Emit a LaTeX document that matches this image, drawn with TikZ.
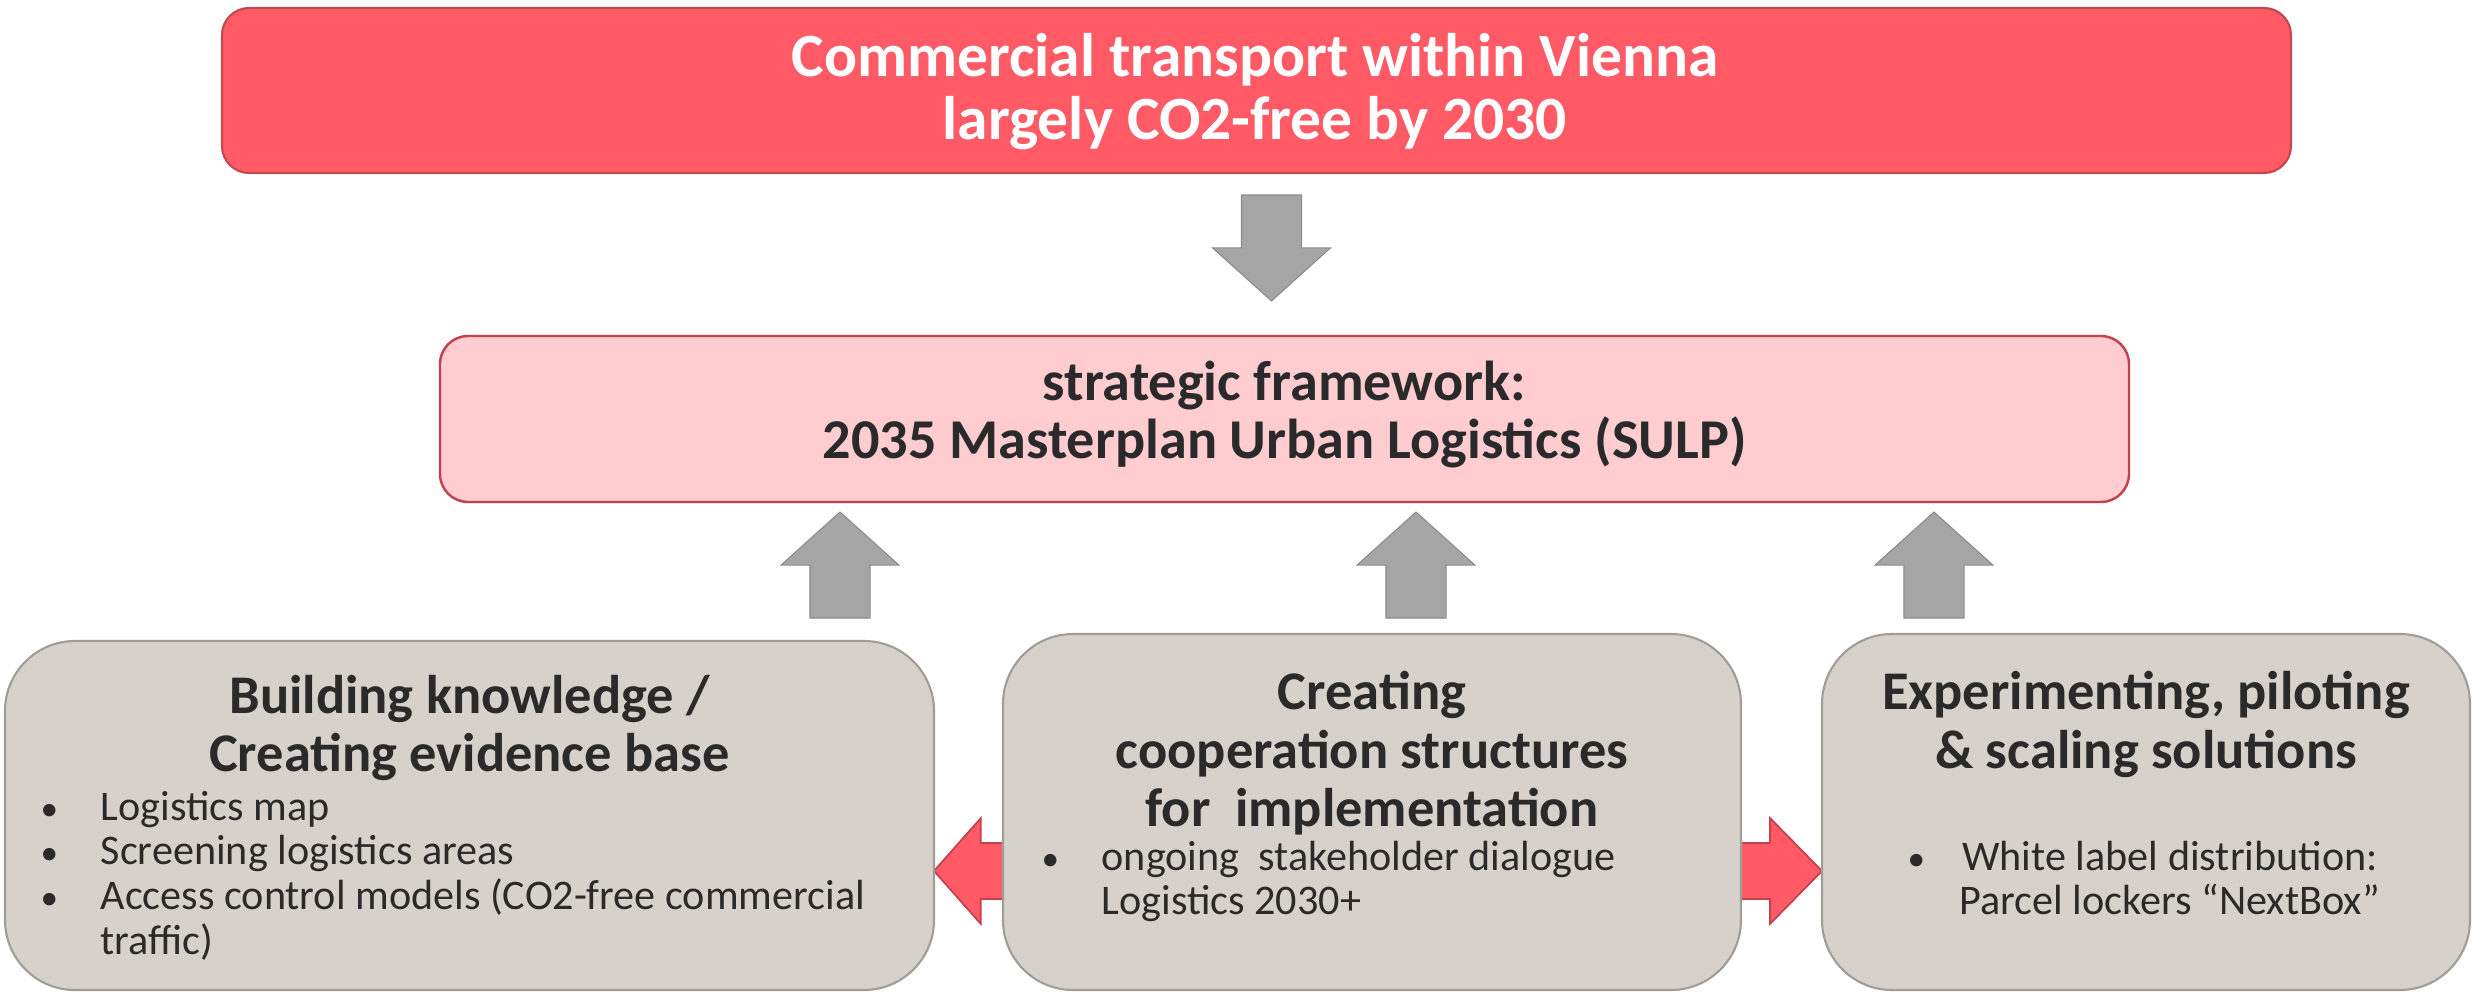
\documentclass[tikz,border=0pt]{standalone}
\usepackage{fontspec}
\setmainfont{Carlito}
\usetikzlibrary{shapes.arrows,backgrounds}

\definecolor{goalred}{HTML}{FF5A65}
\definecolor{goalline}{HTML}{C24A50}
\definecolor{frameline}{HTML}{C3414B}
\definecolor{framepink}{HTML}{FFCCD0}
\definecolor{pillargray}{HTML}{D6D1CB}
\definecolor{pillarline}{HTML}{A09C98}
\definecolor{arrowgray}{HTML}{A5A5A5}
\definecolor{ink}{HTML}{2A2A2A}

\newcommand{\goalfont}{\fontsize{17.5}{17.9}\selectfont\bfseries}
\newcommand{\framefont}{\fontsize{16}{16}\selectfont\bfseries}
\newcommand{\titlefont}{\fontsize{15.5}{16.6}\selectfont\bfseries}
\newcommand{\listfont}{\fontsize{12}{12.8}\selectfont}
\newcommand{\listdot}{{\fontsize{10}{10}\selectfont\textbullet}}

\begin{document}
\begin{tikzpicture}[
    goalbox/.style={draw=goalline, fill=goalred, line width=0.6pt, rounded corners=0.27cm,
      inner sep=0pt, outer sep=0pt},
    framebox/.style={draw=frameline, fill=framepink, line width=0.7pt, rounded corners=0.28cm,
      inner sep=0pt, outer sep=0pt},
    pillarbox/.style={draw=pillarline, fill=pillargray, line width=0.6pt, rounded corners=0.7cm,
      inner sep=0pt, outer sep=0pt},
    txt/.style={inner sep=0pt, text=ink},
    grayblock/.style={single arrow, draw=arrowgray!85!black, fill=arrowgray, line width=0.3pt,
      inner xsep=0.295cm, inner ysep=0pt, single arrow head extend=0.29cm,
      single arrow tip angle=96, minimum height=1.06cm, outer sep=0pt, anchor=tip},
    redblock/.style={single arrow, draw=frameline, fill=goalred, line width=0.5pt,
      inner xsep=0pt, inner ysep=0.27cm, single arrow head extend=0.25cm,
      outer sep=0pt, anchor=tip}
  ]
  \useasboundingbox (0,0) rectangle (24.81,9.95);

  % Goal
  \node[goalbox, minimum width=20.69cm, minimum height=1.65cm] (goal) at (12.565,9.045) {};
  \node[txt, text=white, font=\goalfont, anchor=base] (goaltext) at (12.55,9.18)
    {\begin{tabular}[t]{@{}c@{}}Commercial transport within Vienna\\largely CO2-free by 2030\end{tabular}};

  % Strategic framework
  \node[framebox, minimum width=16.89cm, minimum height=1.66cm] (sulp) at (12.845,5.76) {};
  \node[txt, font=\framefont, anchor=base] (sulptext) at (12.845,5.95)
    {\begin{tabular}[t]{@{}c@{}}strategic framework:\\2035 Masterplan Urban Logistics (SULP)\end{tabular}};

  % Pillars
  \node[pillarbox, minimum width=9.29cm, minimum height=3.49cm] (know) at (4.695,1.795) {};
  \node[pillarbox, minimum width=7.38cm, minimum height=3.56cm] (coop) at (13.72,1.83) {};
  \node[pillarbox, minimum width=6.48cm, minimum height=3.56cm] (pilot) at (21.46,1.83) {};

  \node[txt, font=\titlefont, anchor=base] (knowtitle) at (4.695,2.82)
    {\begin{tabular}[t]{@{}c@{}}Building knowledge /\\Creating evidence base\end{tabular}};
  \node[txt, font=\listfont, anchor=base west] (knowlist) at (0.40,1.75)
    {\begin{tabular}[t]{@{}p{0.60cm}@{}l@{}}
      \listdot & Logistics map\\
      \listdot & Screening logistics areas\\
      \listdot & Access control models (CO2-free commercial\\
               & traffic)
    \end{tabular}};

  \node[txt, font=\titlefont, anchor=base] (cooptitle) at (13.72,2.85)
    {\begin{tabular}[t]{@{}c@{}}Creating\\cooperation structures\\for~ implementation\end{tabular}};
  \node[txt, font=\listfont, anchor=base west] (cooplist) at (10.41,1.25)
    {\begin{tabular}[t]{@{}p{0.60cm}@{}l@{}}
      \listdot & ongoing~ stakeholder dialogue\\
               & Logistics 2030+
    \end{tabular}};

  \node[txt, font=\titlefont, anchor=base] (pilottitle) at (21.46,2.85)
    {\begin{tabular}[t]{@{}c@{}}Experimenting, piloting\\\& scaling solutions\end{tabular}};
  \node[txt, font=\listfont, anchor=base west] (pilotlist) at (19.07,1.25)
    {\begin{tabular}[t]{@{}p{0.52cm}@{}c@{}}
      \listdot & White label distribution:\\
               & Parcel lockers “NextBox”
    \end{tabular}};

  % Arrows
  \begin{scope}[on background layer]
    \node[grayblock, shape border rotate=270] (down) at (12.715,6.94) {};
    \node[grayblock, shape border rotate=90] (upknow) at (8.40,4.83) {};
    \node[grayblock, shape border rotate=90] (upcoop) at (14.16,4.83) {};
    \node[grayblock, shape border rotate=90] (uppilot) at (19.34,4.83) {};
    \node[redblock, shape border rotate=180, minimum height=0.74cm, single arrow tip angle=97]
      (toknow) at (know.east |- 0,1.24) {};
    \node[redblock, minimum height=0.86cm, single arrow tip angle=91]
      (topilot) at (pilot.west |- 0,1.24) {};
  \end{scope}
\end{tikzpicture}
\end{document}
